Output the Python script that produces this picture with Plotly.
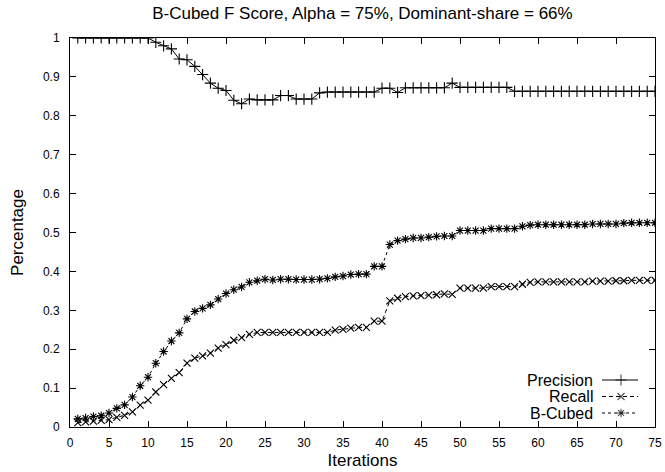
import plotly.graph_objects as go

iterations = list(range(1, 76))

precision = [1.0] * 10 + [
    0.989, 0.980, 0.972, 0.946, 0.944, 0.927, 0.906, 0.884, 0.871, 0.865,   # 11-20
    0.840, 0.831, 0.843, 0.841, 0.841, 0.841, 0.852, 0.852, 0.843, 0.843,   # 21-30
    0.843, 0.859, 0.861, 0.861, 0.861, 0.861, 0.861, 0.861, 0.861, 0.871,   # 31-40
    0.871, 0.860, 0.872, 0.872, 0.872, 0.872, 0.872, 0.872, 0.884, 0.873,   # 41-50
    0.873, 0.873, 0.873, 0.873, 0.873, 0.873, 0.863, 0.863, 0.863, 0.863,   # 51-60
    0.863, 0.863, 0.863, 0.863, 0.863, 0.863, 0.863, 0.863, 0.863, 0.863,   # 61-70
    0.863, 0.863, 0.863, 0.863, 0.863,                                      # 71-75
]

recall = [
    0.011, 0.013, 0.015, 0.017, 0.019, 0.025, 0.030, 0.039, 0.056, 0.069,   # 1-10
    0.090, 0.109, 0.125, 0.140, 0.164, 0.177, 0.183, 0.190, 0.203, 0.212,   # 11-20
    0.223, 0.230, 0.238, 0.243, 0.243, 0.243, 0.243, 0.243, 0.243, 0.243,   # 21-30
    0.243, 0.243, 0.243, 0.249, 0.251, 0.254, 0.256, 0.256, 0.272, 0.272,   # 31-40
    0.324, 0.331, 0.335, 0.337, 0.338, 0.339, 0.340, 0.342, 0.341, 0.357,   # 41-50
    0.357, 0.357, 0.357, 0.361, 0.361, 0.361, 0.361, 0.367, 0.372, 0.373,   # 51-60
    0.373, 0.373, 0.373, 0.373, 0.373, 0.373, 0.375, 0.375, 0.375, 0.376,   # 61-70
    0.376, 0.377, 0.377, 0.377, 0.377,                                      # 71-75
]

bcubed = [
    0.021, 0.023, 0.027, 0.029, 0.036, 0.048, 0.057, 0.077, 0.106, 0.128,   # 1-10
    0.164, 0.194, 0.221, 0.242, 0.278, 0.297, 0.305, 0.314, 0.329, 0.343,   # 11-20
    0.353, 0.360, 0.372, 0.376, 0.380, 0.378, 0.380, 0.380, 0.379, 0.379,   # 21-30
    0.379, 0.380, 0.382, 0.386, 0.388, 0.392, 0.393, 0.393, 0.413, 0.413,   # 31-40
    0.469, 0.479, 0.483, 0.486, 0.486, 0.488, 0.490, 0.491, 0.491, 0.505,   # 41-50
    0.505, 0.505, 0.505, 0.510, 0.510, 0.510, 0.510, 0.516, 0.519, 0.520,   # 51-60
    0.520, 0.520, 0.520, 0.520, 0.520, 0.520, 0.522, 0.522, 0.522, 0.522,   # 61-70
    0.524, 0.525, 0.525, 0.525, 0.525,                                      # 71-75
]

series_names = ["Precision", "Recall", "B-Cubed"]
x_ticks = list(range(0, 80, 5))
y_ticks = [i / 10 for i in range(11)]
y_tick_labels = ["0", "0.1", "0.2", "0.3", "0.4", "0.5", "0.6", "0.7", "0.8", "0.9", "1"]

FONT = "Liberation Sans, Arial, Helvetica, sans-serif"
styles = [
    dict(dash="solid", symbol="cross-thin", size=8),
    dict(dash="4px,3px", symbol="x-thin", size=7),
    dict(dash="dot", symbol="asterisk", size=7),
]

fig = go.Figure()
for name, vals, st in zip(series_names, [precision, recall, bcubed], styles):
    fig.add_trace(go.Scatter(
        x=iterations, y=vals, name=name, mode="lines+markers",
        line=dict(color="black", width=1, dash=st["dash"]),
        marker=dict(symbol=st["symbol"], size=st["size"],
                    line=dict(color="black", width=1.1)),
        showlegend=False, xaxis="x", yaxis="y",
    ))

# legend samples on an overlay axis measured in plot-area pixels
PW, PH = 585, 389
legend_rows = [47, 30.5, 14]
for name, st, yy in zip(series_names, styles, legend_rows):
    fig.add_trace(go.Scatter(
        x=[532, 551, 568], y=[yy, yy, yy], mode="lines+markers",
        line=dict(color="black", width=1, dash=st["dash"]),
        marker=dict(symbol=st["symbol"], size=[0, st["size"], 0],
                    line=dict(color="black", width=1.1)),
        showlegend=False, xaxis="x2", yaxis="y2", hoverinfo="skip",
    ))
    fig.add_annotation(x=525, y=yy, xref="x2", yref="y2", text=name,
                       showarrow=False, xanchor="right", yanchor="middle",
                       font=dict(family=FONT, size=16, color="black"))

axis_common = dict(showline=True, linecolor="black", linewidth=1, mirror="allticks",
                   ticks="inside", ticklen=6, tickcolor="black", tickwidth=1,
                   showgrid=False, zeroline=False, automargin=False,
                   tickfont=dict(family=FONT, size=12, color="black"))

fig.update_layout(
    width=665, height=472,
    margin=dict(l=70, r=10, t=38, b=45, autoexpand=False),
    paper_bgcolor="white", plot_bgcolor="white",
    font=dict(family=FONT, color="black"),
    title=dict(text="B-Cubed F Score, Alpha = 75%, Dominant-share = 66%",
               x=0.545, xanchor="center", y=1 - 13 / 472, yanchor="middle",
               yref="container", font=dict(family=FONT, size=17, color="black")),
    xaxis=dict(range=[0, 75], tickvals=x_ticks, ticklabelstandoff=5,
               title=dict(text="Iterations", standoff=4,
                          font=dict(family=FONT, size=17, color="black")),
               **axis_common),
    yaxis=dict(range=[0, 1], tickvals=y_ticks, ticktext=y_tick_labels, ticklabelstandoff=7,
               title=dict(text="Percentage", standoff=14,
                          font=dict(family=FONT, size=17, color="black")),
               **axis_common),
    xaxis2=dict(range=[0, PW], overlaying="x", visible=False, anchor="y2"),
    yaxis2=dict(range=[0, PH], overlaying="y", visible=False, anchor="x2"),
    showlegend=False,
)

fig.write_html("out.html")
